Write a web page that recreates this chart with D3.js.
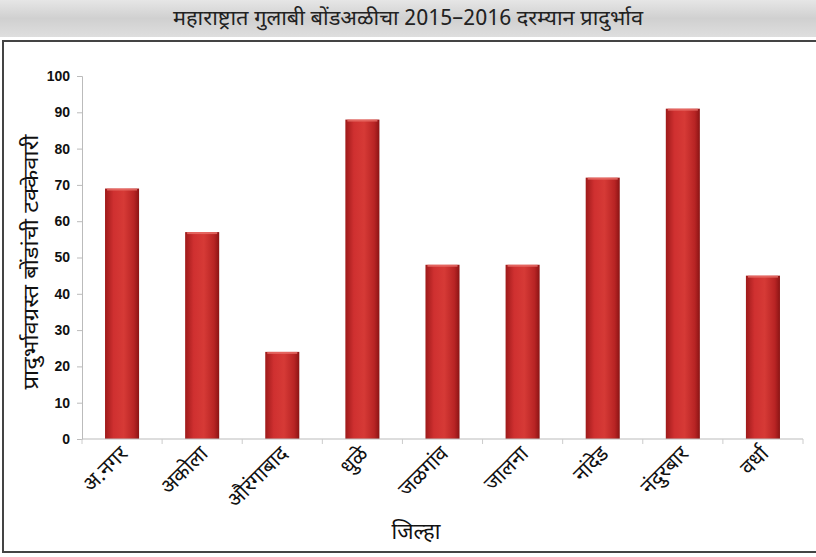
<!DOCTYPE html>
<html><head><meta charset="utf-8">
<script src="https://cdn.jsdelivr.net/npm/d3@7"></script>
<style>
body{margin:0;background:#fff;}
svg{display:block;}
</style></head>
<body>
<svg id="c" width="816" height="557"></svg>
<script>
const categories = ["अ.नगर","अकोला","औरंगाबाद","धुळे","जळगांव","जालना","नांदेड","नंदुरबार","वर्धा"];
const values = [69, 57, 24, 88, 48, 48, 72, 91, 45];
const yTicks = [0,10,20,30,40,50,60,70,80,90,100];
const title = "महाराष्ट्रात गुलाबी बोंडअळीचा 2015–2016 दरम्यान प्रादुर्भाव";
const yTitle = "प्रादुर्भावग्रस्त बोंडांची टक्केवारी";
const xTitle = "जिल्हा";

const svg = d3.select("#c");
const defs = svg.append("defs");
const bg = defs.append("linearGradient").attr("id","banner").attr("x1",0).attr("y1",0).attr("x2",0).attr("y2",1);
bg.append("stop").attr("offset","0%").attr("stop-color","#e6e6e6");
bg.append("stop").attr("offset","50%").attr("stop-color","#d0d0d0");
bg.append("stop").attr("offset","100%").attr("stop-color","#dedede");
const bar = defs.append("linearGradient").attr("id","bar").attr("x1",0).attr("y1",0).attr("x2",1).attr("y2",0);
bar.append("stop").attr("offset","0%").attr("stop-color","#9e1a1a");
bar.append("stop").attr("offset","25%").attr("stop-color","#cf3030");
bar.append("stop").attr("offset","55%").attr("stop-color","#d63a36");
bar.append("stop").attr("offset","85%").attr("stop-color","#b82424");
bar.append("stop").attr("offset","100%").attr("stop-color","#8a1414");

const dev = "'Noto Sans Devanagari','Noto Sans',sans-serif";

// banner
svg.append("rect").attr("x",0).attr("y",0).attr("width",816).attr("height",37).attr("fill","url(#banner)");
svg.append("text").attr("x",408).attr("y",25).attr("text-anchor","middle")
  .attr("font-family",dev).attr("font-size",21).attr("fill","#222")
  .attr("textLength",470).attr("lengthAdjust","spacingAndGlyphs")
  .text(title);
// frame
svg.append("rect").attr("x",3).attr("y",41).attr("width",820).attr("height",511)
  .attr("fill","none").attr("stroke","#444").attr("stroke-width",2);

const m = {l:82, r:803, t:76, b:439};
const x = d3.scaleBand().domain(categories).range([m.l, m.r]).paddingInner(0.575).paddingOuter(0.2875);
const xb = d3.scaleBand().domain(categories).range([m.l, m.r]);
const y = d3.scaleLinear().domain([0,100]).range([m.b, m.t]);

// y axis
const ya = svg.append("g").attr("transform",`translate(${m.l},0)`)
  .call(d3.axisLeft(y).tickValues(yTicks).tickSize(5).tickPadding(7));
ya.select(".domain").attr("stroke","#bbb");
ya.selectAll(".tick line").attr("stroke","#bbb");
ya.selectAll("text").attr("font-family","Arial,'Liberation Sans',sans-serif").attr("font-weight","bold").attr("font-size",14).attr("fill","#111");

// bars
svg.append("g").selectAll("rect").data(values).join("rect")
  .attr("x",(d,i)=>x(categories[i])).attr("width",x.bandwidth())
  .attr("y",d=>y(d)).attr("height",d=>m.b-y(d)).attr("fill","url(#bar)");
svg.append("g").selectAll("rect").data(values).join("rect")
  .attr("x",(d,i)=>x(categories[i])+2).attr("width",x.bandwidth()-4)
  .attr("y",d=>y(d)).attr("height",2).attr("fill","#e8706a").attr("opacity",0.8);

// x axis
const xa = svg.append("g").attr("transform",`translate(0,${m.b})`);
xa.append("line").attr("x1",m.l).attr("x2",m.r).attr("stroke","#bbb");
xa.selectAll(".tk").data(categories.concat(["_end"])).join("line")
  .attr("x1",(d,i)=>m.l+i*xb.step()).attr("x2",(d,i)=>m.l+i*xb.step())
  .attr("y1",0).attr("y2",5).attr("stroke","#ccc");
xa.selectAll(".lbl").data(categories).join("text")
  .attr("transform",d=>`translate(${xb(d)+xb.bandwidth()/2+7},16) rotate(-45)`)
  .attr("text-anchor","end")
  .attr("font-family",dev).attr("font-size",21).attr("fill","#111")
  .text(d=>d);

// axis titles
svg.append("text").attr("transform",`translate(38,262) rotate(-90)`).attr("text-anchor","middle")
  .attr("font-family",dev).attr("font-size",21).attr("fill","#111")
  .attr("textLength",255).attr("lengthAdjust","spacingAndGlyphs")
  .text(yTitle);
svg.append("text").attr("x",416).attr("y",539).attr("text-anchor","middle")
  .attr("font-family",dev).attr("font-size",22).attr("fill","#111")
  .text(xTitle);
</script>
</body></html>
